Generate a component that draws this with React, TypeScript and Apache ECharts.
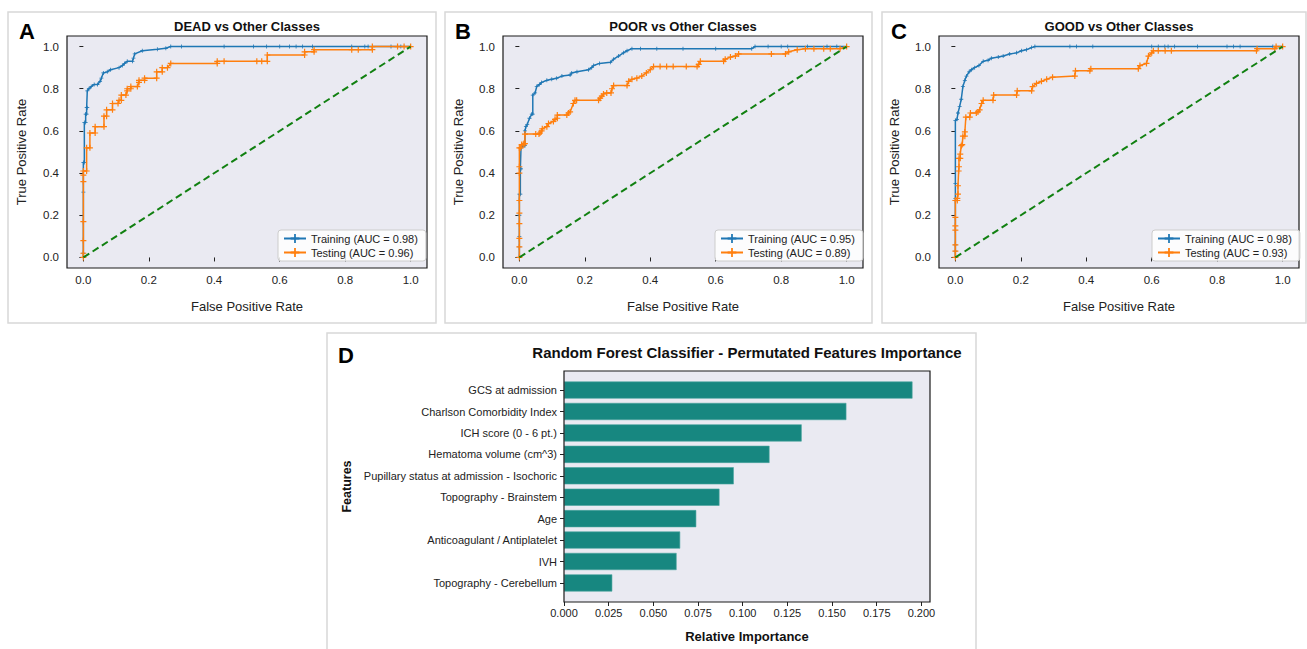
import React, { useEffect, useRef } from "react";
import * as echarts from "echarts";

// ---------- DATA ----------
const rocTicks = [0, 0.2, 0.4, 0.6, 0.8, 1.0];
const impTicks = [0, 0.025, 0.05, 0.075, 0.1, 0.125, 0.15, 0.175, 0.2];
const panelTitles = ["DEAD vs Other Classes", "POOR vs Other Classes", "GOOD vs Other Classes"];
const panelLetters = ["A", "B", "C", "D"];
const trainAUC = ["0.98", "0.95", "0.98"];
const testAUC = ["0.96", "0.89", "0.93"];

const deadTrain = [[0,0],[0,0.02],[0,0.08],[0,0.17],[0,0.31],[0,0.45],[0.003,0.45],[0.003,0.64],[0.007,0.64],[0.007,0.68],[0.010,0.68],[0.010,0.71],[0.012,0.71],[0.012,0.79],[0.017,0.80],[0.024,0.81],[0.033,0.82],[0.043,0.82],[0.051,0.835],[0.055,0.85],[0.061,0.875],[0.073,0.88],[0.083,0.89],[0.109,0.90],[0.119,0.91],[0.126,0.92],[0.134,0.93],[0.150,0.93],[0.153,0.945],[0.157,0.965],[0.180,0.98],[0.226,0.987],[0.252,0.992],[0.267,1.0],[0.30,1.0],[0.43,1.0],[0.52,1.0],[0.56,1.0],[0.60,1.0],[0.63,1.0],[0.65,1.0],[0.67,1.0],[0.70,1.0],[0.82,1.0],[0.86,1.0],[0.87,1.0],[0.94,1.0],[0.97,1.0],[1.0,1.0]];
const deadTest = [[0,0],[0,0.02],[0,0.08],[0,0.17],[0,0.36],[0,0.39],[0,0.41],[0.010,0.41],[0.010,0.52],[0.020,0.52],[0.020,0.59],[0.036,0.59],[0.036,0.62],[0.063,0.62],[0.063,0.67],[0.071,0.67],[0.071,0.70],[0.089,0.70],[0.089,0.73],[0.106,0.73],[0.109,0.745],[0.116,0.745],[0.116,0.77],[0.130,0.77],[0.134,0.79],[0.134,0.80],[0.145,0.80],[0.145,0.81],[0.165,0.81],[0.170,0.83],[0.170,0.84],[0.187,0.84],[0.187,0.85],[0.224,0.85],[0.224,0.88],[0.241,0.88],[0.241,0.90],[0.257,0.90],[0.267,0.92],[0.409,0.92],[0.409,0.93],[0.43,0.93],[0.53,0.93],[0.545,0.93],[0.562,0.93],[0.562,0.96],[0.676,0.96],[0.676,0.975],[0.705,0.975],[0.705,0.985],[0.82,0.985],[0.84,0.985],[0.883,0.985],[0.883,1.0],[0.96,1.0],[0.98,1.0],[1.0,1.0]];

const poorTrain = [[0,0],[0,0.05],[0,0.1],[0,0.2],[0,0.3],[0.003,0.3],[0.003,0.42],[0.005,0.42],[0.005,0.52],[0.014,0.53],[0.017,0.53],[0.017,0.60],[0.020,0.62],[0.024,0.63],[0.031,0.66],[0.038,0.68],[0.041,0.68],[0.041,0.77],[0.048,0.78],[0.053,0.81],[0.061,0.82],[0.068,0.83],[0.084,0.84],[0.099,0.845],[0.114,0.85],[0.13,0.86],[0.155,0.865],[0.16,0.875],[0.176,0.88],[0.211,0.89],[0.221,0.90],[0.227,0.91],[0.245,0.92],[0.278,0.925],[0.288,0.94],[0.303,0.955],[0.318,0.97],[0.329,0.98],[0.344,0.99],[0.37,0.99],[0.42,0.99],[0.5,0.99],[0.6,0.99],[0.71,0.99],[0.72,1.0],[0.76,1.0],[0.8,1.0],[0.82,1.0],[0.88,1.0],[0.94,1.0],[0.97,1.0],[1.0,1.0]];
const poorTest = [[0,0],[0,0.05],[0,0.09],[0,0.16],[0,0.21],[0,0.27],[0,0.40],[0,0.43],[0,0.52],[0.004,0.52],[0.007,0.535],[0.012,0.535],[0.014,0.54],[0.017,0.54],[0.017,0.585],[0.05,0.585],[0.06,0.585],[0.063,0.59],[0.068,0.60],[0.07,0.61],[0.084,0.62],[0.089,0.635],[0.104,0.645],[0.109,0.655],[0.116,0.66],[0.116,0.675],[0.145,0.675],[0.15,0.685],[0.155,0.69],[0.165,0.73],[0.17,0.745],[0.175,0.745],[0.242,0.745],[0.247,0.755],[0.252,0.765],[0.257,0.775],[0.267,0.78],[0.28,0.78],[0.283,0.80],[0.288,0.815],[0.329,0.815],[0.334,0.835],[0.344,0.845],[0.359,0.85],[0.374,0.86],[0.388,0.875],[0.40,0.89],[0.41,0.905],[0.43,0.905],[0.45,0.905],[0.47,0.905],[0.51,0.905],[0.543,0.905],[0.548,0.915],[0.553,0.93],[0.624,0.93],[0.629,0.94],[0.645,0.95],[0.66,0.955],[0.67,0.965],[0.77,0.965],[0.813,0.965],[0.823,0.975],[0.849,0.985],[0.874,0.99],[0.9,0.99],[0.93,0.99],[0.95,0.99],[0.98,0.99],[1.0,1.0]];

const goodTrain = [[0,0],[0,0.03],[0,0.06],[0,0.28],[0,0.35],[0,0.65],[0.005,0.655],[0.008,0.685],[0.013,0.715],[0.018,0.75],[0.023,0.81],[0.029,0.84],[0.034,0.86],[0.042,0.88],[0.049,0.89],[0.059,0.90],[0.072,0.91],[0.085,0.93],[0.1,0.935],[0.11,0.945],[0.131,0.95],[0.146,0.955],[0.166,0.965],[0.187,0.97],[0.202,0.98],[0.217,0.985],[0.233,0.995],[0.243,1.0],[0.35,1.0],[0.37,1.0],[0.42,1.0],[0.6,1.0],[0.62,1.0],[0.64,1.0],[0.65,1.0],[0.67,1.0],[0.74,1.0],[0.83,1.0],[0.85,1.0],[0.87,1.0],[0.97,1.0],[1.0,1.0]];
const goodTest = [[0,0],[0,0.03],[0,0.06],[0,0.13],[0,0.15],[0,0.19],[0,0.27],[0.006,0.27],[0.006,0.28],[0.008,0.30],[0.008,0.34],[0.01,0.41],[0.011,0.43],[0.011,0.47],[0.015,0.47],[0.015,0.49],[0.018,0.53],[0.021,0.535],[0.023,0.575],[0.029,0.575],[0.029,0.595],[0.032,0.665],[0.044,0.665],[0.046,0.685],[0.064,0.685],[0.069,0.69],[0.074,0.70],[0.08,0.73],[0.085,0.745],[0.115,0.745],[0.117,0.77],[0.187,0.77],[0.189,0.79],[0.233,0.79],[0.236,0.81],[0.248,0.825],[0.263,0.835],[0.279,0.845],[0.297,0.855],[0.365,0.86],[0.367,0.885],[0.411,0.885],[0.414,0.895],[0.559,0.895],[0.564,0.91],[0.584,0.92],[0.59,0.955],[0.6,0.97],[0.605,0.98],[0.62,0.98],[0.641,0.98],[0.66,0.98],[0.92,0.98],[0.922,0.99],[0.976,0.99],[0.98,1.0],[1.0,1.0]];

const chanceLine = [[0, 0], [1, 1]];

const featureNames = [
  "GCS at admission",
  "Charlson Comorbidity Index",
  "ICH score (0 - 6 pt.)",
  "Hematoma volume (cm^3)",
  "Pupillary status at admission - Isochoric",
  "Topography - Brainstem",
  "Age",
  "Anticoagulant / Antiplatelet",
  "IVH",
  "Topography - Cerebellum",
];
const importance = [0.195, 0.158, 0.133, 0.115, 0.095, 0.087, 0.074, 0.065, 0.063, 0.027];

// ---------- LAYOUT / STYLE ----------
const FONT = "'Liberation Sans', Arial, Helvetica, sans-serif";
const TXT = "#222222";
const BG = "#eaeaf2";
const BLUE = "#1f77b4";
const ORANGE = "#ff7f0e";
const GREEN = "#118011";
const TEAL = "#178780";
const PLUS = "path://M4,0H6V4H10V6H6V10H4V6H0V4H4Z";

const rocGridLeft = [67, 503, 939];
const rocGridTop = 36;
const rocGridW = 360;
const rocGridH = 232;
const legendLeft = [278, 715, 1152];
const letterX = [27, 463, 899];
const panelBoxes = [
  [8, 12, 428, 311],
  [445, 12, 427, 311],
  [882, 12, 424, 311],
  [327, 333, 649, 330],
];
// D panel frame
const dFrame = { x: 564, y: 371, w: 366, h: 231 };
const dPadBand = 0.39 * (231 / 10.78);

export default function App() {
  const ref = useRef<HTMLDivElement | null>(null);

  useEffect(() => {
    if (!ref.current) return;
    const chart = echarts.init(ref.current, null, { renderer: "svg" });

    const rocData = [
      [deadTrain, deadTest],
      [poorTrain, poorTest],
      [goodTrain, goodTest],
    ];

    const grids: any[] = rocGridLeft.map((l) => ({
      left: l,
      top: rocGridTop,
      width: rocGridW,
      height: rocGridH,
      show: true,
      backgroundColor: BG,
      borderColor: "#1a1a1a",
      borderWidth: 1.2,
      containLabel: false,
      outerBoundsMode: "none",
    }));
    grids.push({
      left: dFrame.x,
      top: dFrame.y + dPadBand,
      width: dFrame.w,
      height: dFrame.h - 2 * dPadBand,
      show: false,
      containLabel: false,
      outerBoundsMode: "none",
    });

    const xAxes: any[] = [0, 1, 2].map((i) => ({
      type: "value",
      gridIndex: i,
      min: -0.05,
      max: 1.05,
      axisLine: { show: false },
      splitLine: { show: false },
      axisTick: { show: true, length: 4, customValues: rocTicks, lineStyle: { color: TXT, width: 1 } },
      axisLabel: { customValues: rocTicks, formatter: (v: number) => v.toFixed(1), fontSize: 11.5, color: TXT, margin: 6, fontFamily: FONT },
      name: "False Positive Rate",
      nameLocation: "middle",
      nameGap: 32,
      nameTextStyle: { fontSize: 13, color: TXT, fontFamily: FONT },
    }));
    xAxes.push({
      type: "value",
      gridIndex: 3,
      min: 0,
      max: 0.2048,
      offset: dPadBand,
      axisLine: { show: false },
      splitLine: { show: false },
      axisTick: { show: true, length: 4, customValues: impTicks, lineStyle: { color: TXT, width: 1 } },
      axisLabel: { customValues: impTicks, formatter: (v: number) => v.toFixed(3), fontSize: 11, color: TXT, margin: 5, fontFamily: FONT },
      name: "Relative Importance",
      nameLocation: "middle",
      nameGap: 28,
      nameTextStyle: { fontSize: 13, fontWeight: "bold", color: "#111", fontFamily: FONT },
    });

    const yAxes: any[] = [0, 1, 2].map((i) => ({
      type: "value",
      gridIndex: i,
      min: -0.05,
      max: 1.05,
      axisLine: { show: false },
      splitLine: { show: false },
      axisTick: { show: true, length: 4, customValues: rocTicks, lineStyle: { color: TXT, width: 1 } },
      axisLabel: { customValues: rocTicks, formatter: (v: number) => v.toFixed(1), fontSize: 11.5, color: TXT, margin: 8, fontFamily: FONT },
      name: "True Positive Rate",
      nameLocation: "middle",
      nameGap: i === 0 ? 39 : 38,
      nameTextStyle: { fontSize: 13, color: TXT, fontFamily: FONT },
    }));
    yAxes.push({
      type: "category",
      gridIndex: 3,
      data: featureNames,
      inverse: true,
      axisLine: { show: false },
      splitLine: { show: false },
      axisTick: { show: true, length: 4, alignWithLabel: true, lineStyle: { color: TXT, width: 1 } },
      axisLabel: { fontSize: 11, color: TXT, margin: 7, fontFamily: FONT, interval: 0 },
      name: "Features",
      nameLocation: "middle",
      nameGap: 211,
      nameTextStyle: { fontSize: 12.5, fontWeight: "bold", color: "#111", fontFamily: FONT },
    });

    const series: any[] = [];
    rocData.forEach((pair, i) => {
      series.push({
        type: "line",
        name: `Training (AUC = ${trainAUC[i]})`,
        xAxisIndex: i,
        yAxisIndex: i,
        data: pair[0],
        symbol: PLUS,
        symbolSize: 4,
        showSymbol: true,
        lineStyle: { color: BLUE, width: 1.5 },
        itemStyle: { color: BLUE },
        emphasis: { disabled: true },
        silent: true,
        z: 3,
      });
      series.push({
        type: "line",
        name: `Testing (AUC = ${testAUC[i]})`,
        xAxisIndex: i,
        yAxisIndex: i,
        data: pair[1],
        symbol: PLUS,
        symbolSize: 6,
        showSymbol: true,
        lineStyle: { color: ORANGE, width: 1.5 },
        itemStyle: { color: ORANGE },
        emphasis: { disabled: true },
        silent: true,
        z: 4,
      });
      series.push({
        type: "line",
        name: `chance-${i}`,
        xAxisIndex: i,
        yAxisIndex: i,
        data: chanceLine,
        symbol: "none",
        lineStyle: { color: GREEN, width: 2, type: [7, 4] },
        emphasis: { disabled: true },
        silent: true,
        z: 5,
      });
    });
    series.push({
      type: "bar",
      name: "importance",
      xAxisIndex: 3,
      yAxisIndex: 3,
      data: importance,
      barWidth: "80%",
      itemStyle: { color: TEAL, borderColor: "#4aa59e", borderWidth: 0.6 },
      emphasis: { disabled: true },
      silent: true,
      z: 3,
    });

    const legends = [0, 1, 2].map((i) => ({
      data: [`Training (AUC = ${trainAUC[i]})`, `Testing (AUC = ${testAUC[i]})`],
      left: legendLeft[i],
      top: 230,
      orient: "vertical",
      itemWidth: 22,
      itemHeight: 11,
      itemGap: 3,
      padding: [3, 8, 3, 5],
      backgroundColor: "rgba(255,255,255,0.85)",
      borderColor: "#cccccc",
      borderWidth: 1,
      borderRadius: 3,
      selectedMode: false,
      textStyle: { fontSize: 11, color: TXT, fontFamily: FONT },
    }));

    const graphics: any[] = [];
    panelBoxes.forEach((b) => {
      graphics.push({
        type: "rect",
        shape: { x: b[0], y: b[1], width: b[2], height: b[3] },
        style: { fill: "none", stroke: "#d8d8d8", lineWidth: 1.5 },
        z: 0,
        silent: true,
      });
    });
    // D plot background and frame
    graphics.push({
      type: "rect",
      shape: { x: dFrame.x, y: dFrame.y, width: dFrame.w, height: dFrame.h },
      style: { fill: BG, stroke: "none" },
      z: 0,
      silent: true,
    });
    graphics.push({
      type: "rect",
      shape: { x: dFrame.x, y: dFrame.y, width: dFrame.w, height: dFrame.h },
      style: { fill: "none", stroke: "#1a1a1a", lineWidth: 1.2 },
      z: 10,
      silent: true,
    });
    panelTitles.forEach((t, i) => {
      graphics.push({
        type: "text",
        x: rocGridLeft[i] + rocGridW / 2,
        y: 26,
        style: { text: t, fontSize: 13, fontWeight: "bold", fontFamily: FONT, fill: "#111", align: "center", verticalAlign: "middle" },
        z: 10,
      });
      graphics.push({
        type: "text",
        x: letterX[i],
        y: 31,
        style: { text: panelLetters[i], fontSize: 22, fontWeight: "bold", fontFamily: FONT, fill: "#000", align: "center", verticalAlign: "middle" },
        z: 10,
      });
    });
    graphics.push({
      type: "text",
      x: dFrame.x + dFrame.w / 2,
      y: 352,
      style: { text: "Random Forest Classifier - Permutated Features Importance", fontSize: 15, fontWeight: "bold", fontFamily: FONT, fill: "#111", align: "center", verticalAlign: "middle" },
      z: 10,
    });
    graphics.push({
      type: "text",
      x: 346,
      y: 355,
      style: { text: panelLetters[3], fontSize: 22, fontWeight: "bold", fontFamily: FONT, fill: "#000", align: "center", verticalAlign: "middle" },
      z: 10,
    });

    chart.setOption({
      animation: false,
      backgroundColor: "#ffffff",
      grid: grids,
      xAxis: xAxes,
      yAxis: yAxes,
      series,
      legend: legends,
      graphic: { elements: graphics },
    });

    return () => chart.dispose();
  }, []);

  return (
    <div
      ref={ref}
      style={{ position: "absolute", left: 0, top: 0, width: 1307, height: 649, background: "#fff" }}
    />
  );
}
